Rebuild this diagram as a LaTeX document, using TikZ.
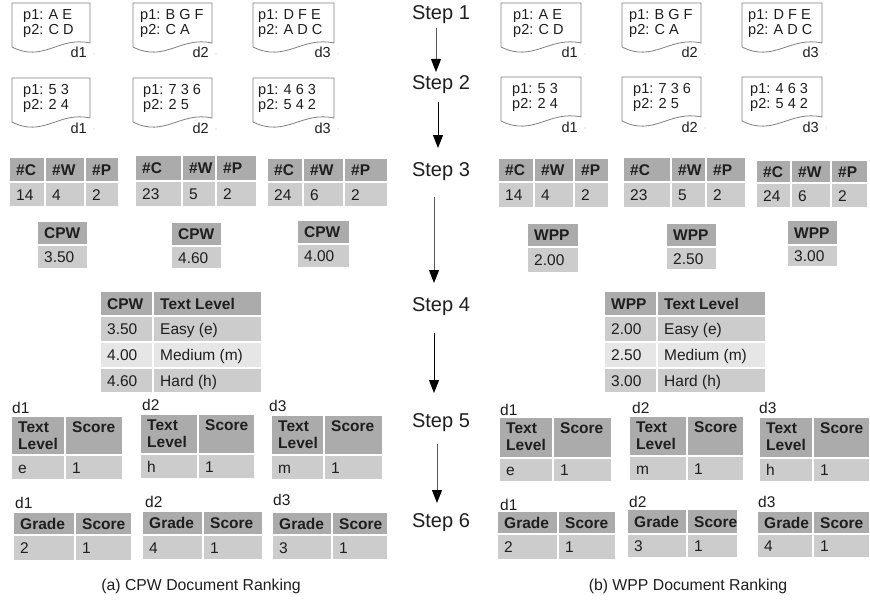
\documentclass[tikz,border=0pt]{standalone}
\usepackage{fontspec}
\setmainfont{Liberation Sans}
\usetikzlibrary{arrows.meta}

\definecolor{hdr}{HTML}{ABABAB}
\definecolor{dat}{HTML}{CCCCCC}
\definecolor{lite}{HTML}{E6E6E6}
\definecolor{docline}{HTML}{808080}
\definecolor{ink}{HTML}{1E1E1E}

\tikzset{
  celltext/.style={inner xsep=7pt, inner ysep=0pt, text=ink, align=left,
    font=\fontsize{15.5}{16}\selectfont},
  doctext/.style={inner sep=0pt, text=ink, align=left,
    font=\fontsize{14.5}{15}\selectfont},
  steplabel/.style={inner sep=1pt, text=ink, font=\fontsize{20}{22}\selectfont},
  caption/.style={inner sep=1pt, text=ink, font=\fontsize{15.8}{18}\selectfont},
  flowarrow/.style={line width=1pt, -{Triangle[length=13pt,width=10pt,color=black]}},
}

% one table cell: name, x1, y1, x2, y2, fill, text (vertically centred)
\newcommand\tcell[7]{%
  \path[fill=#6, draw=white, line width=1.5pt] (#2,#3) rectangle (#4,#5);
  \node[celltext, anchor=base west] (#1) at (#2,{(#3+#5)/2+5.5}) {#7};}
% header cell whose text starts at the top
\newcommand\tcelltop[7]{%
  \path[fill=#6, draw=white, line width=1.5pt] (#2,#3) rectangle (#4,#5);
  \node[celltext, anchor=north west] (#1) at (#2,#3+4.8) {#7};}
% document page with wavy bottom:
% [text indent] name, x, y, width, line 1, line 2, label
\newcommand\docshape[8][9]{%
  \draw[docline, line width=0.8pt, fill=white]
    (#3,#4+44) -- (#3,#4) -- ({#3+#5},#4) -- ({#3+#5},#4+40)
    .. controls ({#3+0.6*#5},#4+33) and ({#3+0.4*#5},#4+60) .. (#3,#4+44) -- cycle;
  \node[doctext, anchor=north west] (#2) at (#3+#1,#4+6) {#6\\#7};
  \node[doctext, anchor=base east] (#2-lbl) at ({#3+#5-3},#4+55) {#8};
  \fill[gray!45] ({#3+#5+4},#4+51) circle (0.6);}

\begin{document}
\begin{tikzpicture}[x=1pt,y=-1pt]
\useasboundingbox (0,0) rectangle (870,602);
\fill[white] (0,0) rectangle (870,602);

% ---------- step labels and the flow between them ----------
\node[steplabel] (s1) at (441,15) {Step 1};
\node[steplabel] (s2) at (441,85) {Step 2};
\node[steplabel] (s3) at (441,172) {Step 3};
\node[steplabel] (s4) at (441,307) {Step 4};
\node[steplabel] (s5) at (441,423) {Step 5};
\node[steplabel] (s6) at (441,523) {Step 6};

\coordinate (a1s) at (436,28);  \coordinate (a1e) at (436,72);
\coordinate (a2s) at (438,102); \coordinate (a2e) at (438,148);
\coordinate (a3s) at (434,197); \coordinate (a3e) at (434,283);
\coordinate (a4s) at (434,333); \coordinate (a4e) at (434,393);
\coordinate (a5s) at (437,444); \coordinate (a5e) at (437,503);
\draw[flowarrow, draw=black!65] (a1s) -- (a1e);
\draw[flowarrow, draw=black] (a2s) -- (a2e);
\draw[flowarrow, draw=black!65] (a3s) -- (a3e);
\draw[flowarrow, draw=black] (a4s) -- (a4e);
\draw[flowarrow, draw=black!65] (a5s) -- (a5e);

% ---------- (a) CPW ----------
\docshape[11]{la-d1}{12}{3}{78}{p1: A E}{p2: C D}{d1}
\docshape[7]{la-d2}{133}{3}{79}{p1: B G F}{p2: C A}{d2}
\docshape[5]{la-d3}{253}{3}{81}{p1: D F E}{p2: A D C}{d3}
\docshape[11]{lb-d1}{12}{78}{78}{p1: 5 3}{p2: 2 4}{d1}
\docshape[10]{lb-d2}{133}{78}{79}{p1: 7 3 6}{p2: 2 5}{d2}
\docshape[5]{lb-d3}{253}{78}{81}{p1: 4 6 3}{p2: 5 4 2}{d3}

\tcell{lc1-h1}{9}{157}{45}{182}{hdr}{\textbf{\#C}}
\tcell{lc1-h2}{45}{157}{85}{182}{hdr}{\textbf{\#W}}
\tcell{lc1-h3}{85}{157}{119}{182}{hdr}{\textbf{\#P}}
\tcell{lc1-v1}{9}{182}{45}{207}{dat}{14}
\tcell{lc1-v2}{45}{182}{85}{207}{dat}{4}
\tcell{lc1-v3}{85}{182}{119}{207}{dat}{2}

\tcell{lc2-h1}{135}{155}{182}{181}{hdr}{\textbf{\#C}}
\tcell{lc2-h2}{182}{155}{216}{181}{hdr}{\textbf{\#W}}
\tcell{lc2-h3}{216}{155}{257}{181}{hdr}{\textbf{\#P}}
\tcell{lc2-v1}{135}{181}{182}{207}{dat}{23}
\tcell{lc2-v2}{182}{181}{216}{207}{dat}{5}
\tcell{lc2-v3}{216}{181}{257}{207}{dat}{2}

\tcell{lc3-h1}{267}{158}{303}{182}{hdr}{\textbf{\#C}}
\tcell{lc3-h2}{303}{158}{344}{182}{hdr}{\textbf{\#W}}
\tcell{lc3-h3}{344}{158}{388}{182}{hdr}{\textbf{\#P}}
\tcell{lc3-v1}{267}{182}{303}{207}{dat}{24}
\tcell{lc3-v2}{303}{182}{344}{207}{dat}{6}
\tcell{lc3-v3}{344}{182}{388}{207}{dat}{2}

\tcell{lm1-h}{37}{221}{88}{245}{hdr}{\textbf{CPW}}
\tcell{lm1-v}{37}{245}{88}{269}{dat}{3.50}
\tcell{lm2-h}{171}{222}{222}{246}{hdr}{\textbf{CPW}}
\tcell{lm2-v}{171}{246}{222}{269}{dat}{4.60}
\tcell{lm3-h}{297}{220}{350}{244}{hdr}{\textbf{CPW}}
\tcell{lm3-v}{297}{244}{350}{268}{dat}{4.00}

\tcell{ll-h1}{100}{291}{153}{316}{hdr}{\textbf{CPW}}
\tcell{ll-h2}{153}{291}{262}{316}{hdr}{\textbf{Text Level}}
\tcell{ll-r1a}{100}{316}{153}{342}{dat}{3.50}
\tcell{ll-r1b}{153}{316}{262}{342}{dat}{Easy (e)}
\tcell{ll-r2a}{100}{342}{153}{368}{lite}{4.00}
\tcell{ll-r2b}{153}{342}{262}{368}{lite}{Medium (m)}
\tcell{ll-r3a}{100}{368}{153}{393}{dat}{4.60}
\tcell{ll-r3b}{153}{368}{262}{393}{dat}{Hard (h)}

\node[celltext, inner xsep=0pt, anchor=base west] (ls1-lbl) at (12,413) {d1};
\tcelltop{ls1-h1}{11}{416}{65}{455}{hdr}{\textbf{Text}\strut\\\textbf{Level}\strut}
\tcelltop{ls1-h2}{65}{416}{123}{455}{hdr}{\textbf{Score}\strut}
\tcell{ls1-v1}{11}{455}{65}{480}{dat}{e}
\tcell{ls1-v2}{65}{455}{123}{480}{dat}{1}
\node[celltext, inner xsep=0pt, anchor=base west] (ls2-lbl) at (142,410) {d2};
\tcelltop{ls2-h1}{140}{414}{198}{454}{hdr}{\textbf{Text}\strut\\\textbf{Level}\strut}
\tcelltop{ls2-h2}{198}{414}{255}{454}{hdr}{\textbf{Score}\strut}
\tcell{ls2-v1}{140}{454}{198}{479}{dat}{h}
\tcell{ls2-v2}{198}{454}{255}{479}{dat}{1}
\node[celltext, inner xsep=0pt, anchor=base west] (ls3-lbl) at (269,411) {d3};
\tcelltop{ls3-h1}{271}{415}{324}{455}{hdr}{\textbf{Text}\strut\\\textbf{Level}\strut}
\tcelltop{ls3-h2}{324}{415}{383}{455}{hdr}{\textbf{Score}\strut}
\tcell{ls3-v1}{271}{455}{324}{480}{dat}{m}
\tcell{ls3-v2}{324}{455}{383}{480}{dat}{1}

\node[celltext, inner xsep=0pt, anchor=base west] (lg1-lbl) at (15,508) {d1};
\tcell{lg1-h1}{13}{512}{75}{535}{hdr}{\textbf{Grade}}
\tcell{lg1-h2}{75}{512}{132}{535}{hdr}{\textbf{Score}}
\tcell{lg1-v1}{13}{535}{75}{561}{dat}{2}
\tcell{lg1-v2}{75}{535}{132}{561}{dat}{1}
\node[celltext, inner xsep=0pt, anchor=base west] (lg2-lbl) at (145,507) {d2};
\tcell{lg2-h1}{142}{511}{203}{535}{hdr}{\textbf{Grade}}
\tcell{lg2-h2}{203}{511}{263}{535}{hdr}{\textbf{Score}}
\tcell{lg2-v1}{142}{535}{203}{560}{dat}{4}
\tcell{lg2-v2}{203}{535}{263}{560}{dat}{1}
\node[celltext, inner xsep=0pt, anchor=base west] (lg3-lbl) at (273,505) {d3};
\tcell{lg3-h1}{272}{512}{332}{535}{hdr}{\textbf{Grade}}
\tcell{lg3-h2}{332}{512}{388}{535}{hdr}{\textbf{Score}}
\tcell{lg3-v1}{272}{535}{332}{560}{dat}{3}
\tcell{lg3-v2}{332}{535}{388}{560}{dat}{1}

\node[caption] (cap-a) at (201,586) {(a) CPW Document Ranking};

% ---------- (b) WPP ----------
\docshape[12]{ra-d1}{501}{3}{80}{p1: A E}{p2: C D}{d1}
\docshape[7]{ra-d2}{622}{3}{79}{p1: B G F}{p2: C A}{d2}
\docshape[6]{ra-d3}{742}{3}{80}{p1: D F E}{p2: A D C}{d3}
\docshape[11]{rb-d1}{501}{77}{80}{p1: 5 3}{p2: 2 4}{d1}
\docshape[11]{rb-d2}{622}{77}{79}{p1: 7 3 6}{p2: 2 5}{d2}
\docshape[8]{rb-d3}{742}{77}{80}{p1: 4 6 3}{p2: 5 4 2}{d3}

\tcell{rc1-h1}{498}{158}{534}{182}{hdr}{\textbf{\#C}}
\tcell{rc1-h2}{534}{158}{574}{182}{hdr}{\textbf{\#W}}
\tcell{rc1-h3}{574}{158}{609}{182}{hdr}{\textbf{\#P}}
\tcell{rc1-v1}{498}{182}{534}{208}{dat}{14}
\tcell{rc1-v2}{534}{182}{574}{208}{dat}{4}
\tcell{rc1-v3}{574}{182}{609}{208}{dat}{2}

\tcell{rc2-h1}{623}{157}{671}{182}{hdr}{\textbf{\#C}}
\tcell{rc2-h2}{671}{157}{706}{182}{hdr}{\textbf{\#W}}
\tcell{rc2-h3}{706}{157}{746}{182}{hdr}{\textbf{\#P}}
\tcell{rc2-v1}{623}{182}{671}{208}{dat}{23}
\tcell{rc2-v2}{671}{182}{706}{208}{dat}{5}
\tcell{rc2-v3}{706}{182}{746}{208}{dat}{2}

\tcell{rc3-h1}{756}{160}{791}{183}{hdr}{\textbf{\#C}}
\tcell{rc3-h2}{791}{160}{831}{183}{hdr}{\textbf{\#W}}
\tcell{rc3-h3}{831}{160}{868}{183}{hdr}{\textbf{\#P}}
\tcell{rc3-v1}{756}{183}{791}{208}{dat}{24}
\tcell{rc3-v2}{791}{183}{831}{208}{dat}{6}
\tcell{rc3-v3}{831}{183}{868}{208}{dat}{2}

\tcell{rm1-h}{527}{223}{579}{247}{hdr}{\textbf{WPP}}
\tcell{rm1-v}{527}{247}{579}{273}{dat}{2.00}
\tcell{rm2-h}{666}{223}{717}{247}{hdr}{\textbf{WPP}}
\tcell{rm2-v}{666}{247}{717}{270}{dat}{2.50}
\tcell{rm3-h}{787}{220}{838}{245}{hdr}{\textbf{WPP}}
\tcell{rm3-v}{787}{245}{838}{267}{dat}{3.00}

\tcell{rl-h1}{604}{291}{657}{316}{hdr}{\textbf{WPP}}
\tcell{rl-h2}{657}{291}{766}{316}{hdr}{\textbf{Text Level}}
\tcell{rl-r1a}{604}{316}{657}{342}{dat}{2.00}
\tcell{rl-r1b}{657}{316}{766}{342}{dat}{Easy (e)}
\tcell{rl-r2a}{604}{342}{657}{368}{lite}{2.50}
\tcell{rl-r2b}{657}{342}{766}{368}{lite}{Medium (m)}
\tcell{rl-r3a}{604}{368}{657}{393}{dat}{3.00}
\tcell{rl-r3b}{657}{368}{766}{393}{dat}{Hard (h)}

\node[celltext, inner xsep=0pt, anchor=base west] (rs1-lbl) at (500,415) {d1};
\tcelltop{rs1-h1}{499}{417}{553}{458}{hdr}{\textbf{Text}\strut\\\textbf{Level}\strut}
\tcelltop{rs1-h2}{553}{417}{612}{458}{hdr}{\textbf{Score}\strut}
\tcell{rs1-v1}{499}{458}{553}{482}{dat}{e}
\tcell{rs1-v2}{553}{458}{612}{482}{dat}{1}
\node[celltext, inner xsep=0pt, anchor=base west] (rs2-lbl) at (632,413) {d2};
\tcelltop{rs2-h1}{629}{416}{687}{456}{hdr}{\textbf{Text}\strut\\\textbf{Level}\strut}
\tcelltop{rs2-h2}{687}{416}{744}{456}{hdr}{\textbf{Score}\strut}
\tcell{rs2-v1}{629}{456}{687}{481}{dat}{m}
\tcell{rs2-v2}{687}{456}{744}{481}{dat}{1}
\node[celltext, inner xsep=0pt, anchor=base west] (rs3-lbl) at (759,413) {d3};
\tcelltop{rs3-h1}{759}{417}{813}{458}{hdr}{\textbf{Text}\strut\\\textbf{Level}\strut}
\tcelltop{rs3-h2}{813}{417}{870}{458}{hdr}{\textbf{Score}\strut}
\tcell{rs3-v1}{759}{458}{813}{482}{dat}{h}
\tcell{rs3-v2}{813}{458}{870}{482}{dat}{1}

\node[celltext, inner xsep=0pt, anchor=base west] (rg1-lbl) at (500,510) {d1};
\tcell{rg1-h1}{497}{511}{558}{534}{hdr}{\textbf{Grade}}
\tcell{rg1-h2}{558}{511}{616}{534}{hdr}{\textbf{Score}}
\tcell{rg1-v1}{497}{534}{558}{560}{dat}{2}
\tcell{rg1-v2}{558}{534}{616}{560}{dat}{1}
\node[celltext, inner xsep=0pt, anchor=base west] (rg2-lbl) at (629,507) {d2};
\tcell{rg2-h1}{627}{509}{687}{534}{hdr}{\textbf{Grade}}
\tcell{rg2-h2}{687}{509}{738}{534}{hdr}{\textbf{Score}}
\tcell{rg2-v1}{627}{534}{687}{558}{dat}{3}
\tcell{rg2-v2}{687}{534}{738}{558}{dat}{1}
\node[celltext, inner xsep=0pt, anchor=base west] (rg3-lbl) at (758,507) {d3};
\tcell{rg3-h1}{757}{511}{813}{534}{hdr}{\textbf{Grade}}
\tcell{rg3-h2}{813}{511}{870}{534}{hdr}{\textbf{Score}}
\tcell{rg3-v1}{757}{534}{813}{558}{dat}{4}
\tcell{rg3-v2}{813}{534}{870}{558}{dat}{1}

\node[caption] (cap-b) at (688,586) {(b) WPP Document Ranking};
\end{tikzpicture}
\end{document}
